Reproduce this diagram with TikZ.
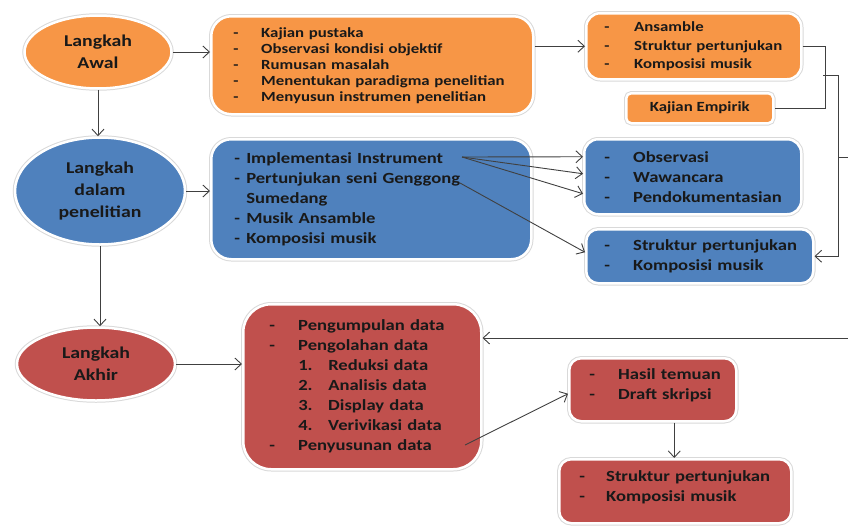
\documentclass[tikz,border=0pt]{standalone}
\usepackage{fontspec}
\setmainfont{Carlito}[FakeStretch=1.2]
\usetikzlibrary{arrows.meta,positioning,shapes.geometric}
\definecolor{orng}{HTML}{F79646}
\definecolor{blu}{HTML}{4F81BD}
\definecolor{rd}{HTML}{C0504D}
\newcommand{\dl}[2][29pt]{\makebox[#1][l]{-}\mbox{#2}}

\begin{document}
\begin{tikzpicture}[x=1pt, y=-1pt,
  ring/.style={draw=white, line width=2.5pt, preaction={draw=black!15, line width=4.5pt}},
  stage/.style={ellipse, ring, inner sep=0pt, align=center, text=black!90,
                font=\bfseries\fontsize{16.5}{22}\selectfont},
  box/.style={ring, rounded corners=14pt, anchor=north west, align=left, text=black!90},
  fA/.style={font=\bfseries\fontsize{14}{16}\selectfont},
  fB/.style={font=\bfseries\fontsize{14}{18.5}\selectfont},
  fC/.style={font=\bfseries\fontsize{15.5}{20}\selectfont},
  arr/.style={-{Straight Barb[length=6.5pt,width=12pt]}, line width=0.9pt, draw=black!75},
  lin/.style={line width=0.9pt, draw=black!75},
]
  \useasboundingbox (0,0) rectangle (848,525);

  % Left column: the three stages
  \node[stage, fill=orng, minimum width=147pt, minimum height=73pt] (awal) at (98,52)
    {Langkah\\Awal};
  \node[stage, fill=blu, minimum width=170pt, minimum height=107pt] (dalam) at (100,191)
    {Langkah\\dalam\\penelitian};
  \node[stage, fill=rd, minimum width=158pt, minimum height=73pt] (akhir) at (96,364)
    {Langkah\\Akhir};

  % Top row (orange)
  \node[box, fill=orng, fA, rounded corners=20pt, inner xsep=22pt, text width=278pt,
        minimum height=98pt] (pustaka) at (210,15)
    {\dl[28pt]{Kajian pustaka}\\
     \dl[28pt]{Observasi kondisi objektif}\\
     \dl[28pt]{Rumusan masalah}\\
     \dl[28pt]{Menentukan paradigma penelitian}\\
     \dl[28pt]{Menyusun instrumen penelitian}};
  \node[box, fill=orng, fB, inner xsep=18pt, text width=179pt,
        minimum height=66pt] (ansambel) at (585,12)
    {\dl[30pt]{Ansamble}\\
     \dl[30pt]{Struktur pertunjukan}\\
     \dl[30pt]{Komposisi musik}};
  \node[box, fill=orng, fA, rounded corners=5pt, align=center, minimum width=147pt,
        minimum height=30pt] (empirik) at (625,92)
    {Kajian Empirik};

  % Middle row (blue)
  \node[box, fill=blu, fC, rounded corners=20pt, inner xsep=23pt, text width=274pt,
        minimum height=120pt] (instr) at (210,138)
    {\dl[12pt]{Implementasi Instrument}\\
     \dl[12pt]{Pertunjukan seni Genggong}\\
     \hspace*{12pt}Sumedang\\
     \dl[12pt]{Musik Ansamble}\\
     \dl[12pt]{Komposisi musik}};
  \node[box, fill=blu, fC, inner xsep=20pt, text width=177pt,
        minimum height=75pt] (obs) at (583,138)
    {\dl{Observasi}\\
     \dl{Wawancara}\\
     \dl{Pendokumentasian}};
  \node[box, fill=blu, fC, rounded corners=12pt, inner xsep=18pt, text width=191pt,
        minimum height=54pt] (struka) at (585,228)
    {\dl{Struktur pertunjukan}\\
     \dl{Komposisi musik}};

  % Bottom row (red)
  \node[box, fill=rd, fC, rounded corners=28pt, inner xsep=26pt, text width=186pt,
        minimum height=165pt] (olah) at (242,303)
    {\dl{Pengumpulan data}\\
     \dl{Pengolahan data}\\
     \hspace*{29pt}\makebox[30pt][l]{1.}Reduksi data\\
     \hspace*{29pt}\makebox[30pt][l]{2.}Analisis data\\
     \hspace*{29pt}\makebox[30pt][l]{3.}Display data\\
     \hspace*{29pt}\makebox[30pt][l]{4.}Verivikasi data\\
     \dl{Penyusunan data}};
  \node[box, fill=rd, fC, rounded corners=12pt, inner xsep=20pt, text width=127pt,
        text depth=32pt, minimum height=63pt] (hasil) at (568,357)
    {\dl{Hasil temuan}\\
     \dl{Draft skripsi}};
  \node[box, fill=rd, fC, rounded corners=12pt, inner xsep=20pt, text width=192pt,
        text depth=31pt, minimum height=64pt] (strukb) at (558,458)
    {\dl[27pt]{Struktur pertunjukan}\\
     \dl[27pt]{Komposisi musik}};

  % Stage arrows
  \draw[arr] (awal.south) -- (awal.south |- dalam.north);
  \draw[arr] (dalam.south) -- (dalam.south |- akhir.north);
  \draw[arr] (awal.east) -- (awal.east -| pustaka.west);
  \draw[arr] (dalam.east) -- (dalam.east -| instr.west);
  \draw[arr] (akhir.east) -- (akhir.east -| olah.west);
  \draw[arr] (pustaka.east |- ansambel.west) -- (ansambel.west);

  % From the list items
  \coordinate (impl) at (462,157);
  \coordinate (pert) at (460,183);
  \coordinate (peny) at (465,445);
  \draw[arr] (impl) -- ([yshift=20pt]obs.west);
  \draw[arr] (impl) -- ([yshift=3pt]obs.west);
  \draw[arr] (impl) -- ([yshift=-17pt]obs.west);
  \draw[arr] (pert) -- ([yshift=4pt]struka.west);
  \draw[arr] (peny) -- ([yshift=-4pt]hasil.west);
  \draw[arr] ([xshift=21.5pt]hasil.south) -- ([xshift=21.5pt]hasil.south |- strukb.north);

  % Right-hand brackets
  \coordinate (ja) at (823,75);
  \coordinate (jb) at (838,75);
  \coordinate (outa) at (848,157);
  \coordinate (ina) at (848,338);
  \draw[lin] (ansambel.east) -- ++(23,0) |- (empirik.east);
  \draw[lin] (ja) -- (jb);
  \draw[arr] (jb) |- (struka.east);
  \draw[lin] (jb |- outa) -- (outa);
  \draw[arr] (ina) -- (ina -| olah.east);
\end{tikzpicture}
\end{document}
